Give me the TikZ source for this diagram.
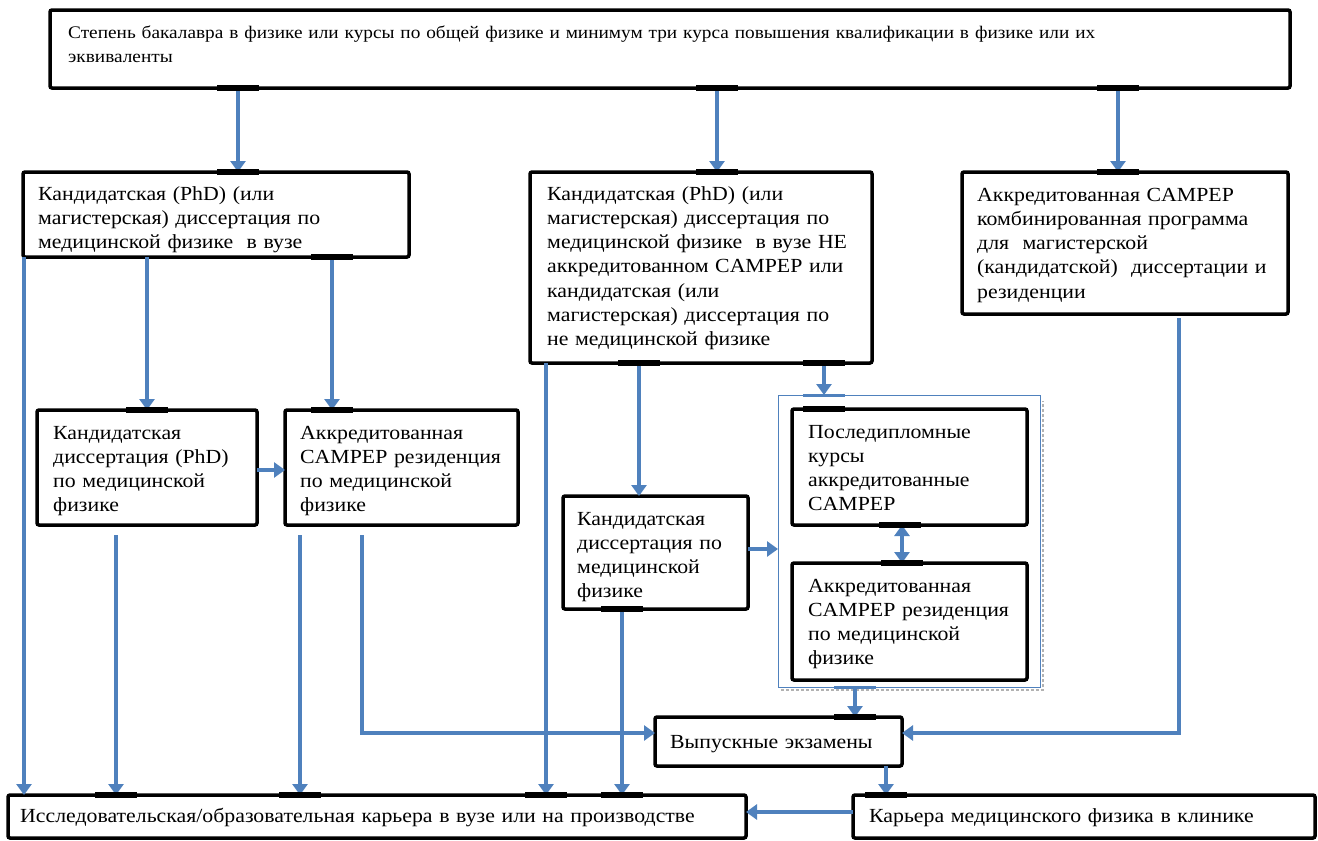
\documentclass[tikz,border=0pt]{standalone}
\usepackage{fontspec}
\setmainfont{Liberation Serif}
\newfontfamily\boxfont[FakeStretch=1.09]{Liberation Serif}
\usetikzlibrary{arrows.meta,calc,fit}
\definecolor{arrowblue}{HTML}{4F81BD}
\tikzset{
  box/.style={draw=black, line width=3.5pt, rounded corners=2pt, inner sep=0pt, outer sep=0pt},
  grp/.style={draw=arrowblue, line width=1pt, inner sep=0pt, outer sep=0pt},
  txt/.style={anchor=base west, inner sep=0pt, text width=1250pt, align=left,
              font=\boxfont\fontsize{20}{24.3}\selectfont},
  toptxt/.style={txt, font=\boxfont\fontsize{17.7}{24}\selectfont},
  arr/.style={draw=arrowblue, line width=3.5pt, -{Triangle[length=11pt,width=15pt]}},
  darr/.style={draw=arrowblue, line width=3.5pt, {Triangle[length=11pt,width=15pt]}-{Triangle[length=11pt,width=15pt]}},
  tab/.style={draw=black, line width=5.5pt},
  btab/.style={draw=arrowblue, line width=3pt},
}
\begin{document}
\begin{tikzpicture}[x=1pt,y=-1pt]
\fill[white] (0,0) rectangle (1318,841);
\useasboundingbox (0,0) rectangle (1318,841);

% group container
\node[grp, fit={(778,395) (1040,687)}] (G) {};
\draw[gray!60, line width=1.5pt, dash pattern=on 3pt off 2pt] ($(G.south west)+(3,3)$) -- ($(G.south east)+(3,3)$) -- ($(G.north east)+(3,6)$);

% boxes (shapes)
\node[box, fit={(50,10) (1290,88)}] (T) {};
\node[box, fit={(23,172) (409,257)}] (L1) {};
\node[box, fit={(530,172) (872,363)}] (M1) {};
\node[box, fit={(962,172) (1288,314)}] (R1) {};
\node[box, fit={(37,410) (257,525)}] (L2) {};
\node[box, fit={(285,410) (518,525)}] (L3) {};
\node[box, fit={(563,496) (748,609)}] (M2) {};
\node[box, fit={(792,409) (1027,525)}] (G1) {};
\node[box, fit={(792,563) (1027,680)}] (G2) {};
\node[box, fit={(655,717) (902,766)}] (EX) {};
\node[box, fit={(8,795) (746,838)}] (BL) {};
\node[box, fit={(853,795) (1315,838)}] (BR) {};

% connectors
\draw[arr] (T.south -| 238,0) -- (L1.north -| 238,0);
\draw[arr] (T.south -| 717,0) -- (M1.north -| 717,0);
\draw[arr] (T.south -| 1118,0) -- (R1.north -| 1118,0);
\draw[arr] (L1.south -| 24,0) -- (BL.north -| 24,0);
\draw[arr] (L1.south -| 147,0) -- (L2.north -| 147,0);
\draw[arr] (L1.south -| 332,0) -- (L3.north -| 332,0);
\draw[arr] (L2.east |- 0,470) -- (L3.west |- 0,470);
\draw[arr] ($(L2.south -| 116,0)+(0,10)$) -- (BL.north -| 116,0);
\draw[arr] ($(L3.south -| 300,0)+(0,10)$) -- (BL.north -| 300,0);
\draw[arr] ($(L3.south -| 362,0)+(0,10)$) |- ($(EX.west)+(0,-8.5)$);
\draw[arr] (M1.south -| 546,0) -- (BL.north -| 546,0);
\draw[arr] (M1.south -| 639,0) -- (M2.north -| 639,0);
\draw[arr] (M1.south -| 824,0) -- (G.north -| 824,0);
\draw[arr] (M2.east |- 0,549) -- (G.west |- 0,549);
\draw[arr] (M2.south -| 622,0) -- (BL.north -| 622,0);
\draw[darr] (G1.south -| 902,0) -- (G2.north -| 902,0);
\draw[arr] (G.south -| 855,0) -- (EX.north -| 855,0);
\draw[arr] ($(R1.south -| 1179,0)+(0,4)$) |- ($(EX.east)+(0,-8.5)$);
\draw[arr] (EX.south -| 886,0) -- (BR.north -| 886,0);
\draw[arr] (BR.west |- 0,812) -- (BL.east |- 0,812);

% connection tabs
\foreach \n/\x in {T/238,T/717,T/1118}
  \draw[tab] ($(\n.south -| \x,0)+(-21,0)$) -- ++(42,0);
\foreach \n/\x in {L1/238,M1/717,R1/1118,L2/147,L3/332,G1/824,EX/855,BR/886,BL/116,BL/300,BL/546,BL/622}
  \draw[tab] ($(\n.north -| \x,0)+(-21,0)$) -- ++(42,0);
\foreach \n/\x in {M1/639,M1/824,M2/622,G1/900,L1/332}
  \draw[tab] ($(\n.south -| \x,0)+(-21,0)$) -- ++(42,0);
\draw[tab] ($(G2.north -| 902,0)+(-21,0)$) -- ++(42,0);
\draw[btab] ($(G.north -| 824,0)+(-21,0)$) -- ++(42,0);
\draw[btab] ($(G.south -| 855,0)+(-21,0)$) -- ++(42,0);

% texts
\node[toptxt] (tT) at (68,38) {Степень бакалавра в физике или курсы по общей физике и минимум три курса повышения квалификации в физике или их\\эквиваленты};
\node[txt] (tL1) at (38,200) {Кандидатская (PhD) (или\\магистерская) диссертация по\\медицинской физике\ \ в вузе};
\node[txt] (tM1) at (547,200) {Кандидатская (PhD) (или\\магистерская) диссертация по\\медицинской физике\ \ в вузе НЕ\\аккредитованном CAMPEP или\\кандидатская (или\\магистерская) диссертация по\\не медицинской физике};
\node[txt] (tR1) at (977,201) {Аккредитованная CAMPEP\\комбинированная программа\\для\ \ магистерской\\(кандидатской)\ \ диссертации и\\резиденции};
\node[txt] (tL2) at (53,439) {Кандидатская\\диссертация (PhD)\\по медицинской\\физике};
\node[txt] (tL3) at (300,439) {Аккредитованная\\CAMPEP резиденция\\по медицинской\\физике};
\node[txt] (tM2) at (577,525) {Кандидатская\\диссертация по\\медицинской\\физике};
\node[txt] (tG1) at (808,438) {Последипломные\\курсы\\аккредитованные\\CAMPEP};
\node[txt] (tG2) at (808,592) {Аккредитованная\\CAMPEP резиденция\\по медицинской\\физике};
\node[txt] (tEX) at (670,748) {Выпускные экзамены};
\node[txt] (tBL) at (20,822) {Исследовательская/образовательная карьера в вузе или на производстве};
\node[txt] (tBR) at (869,822) {Карьера медицинского физика в клинике};
\end{tikzpicture}
\end{document}
